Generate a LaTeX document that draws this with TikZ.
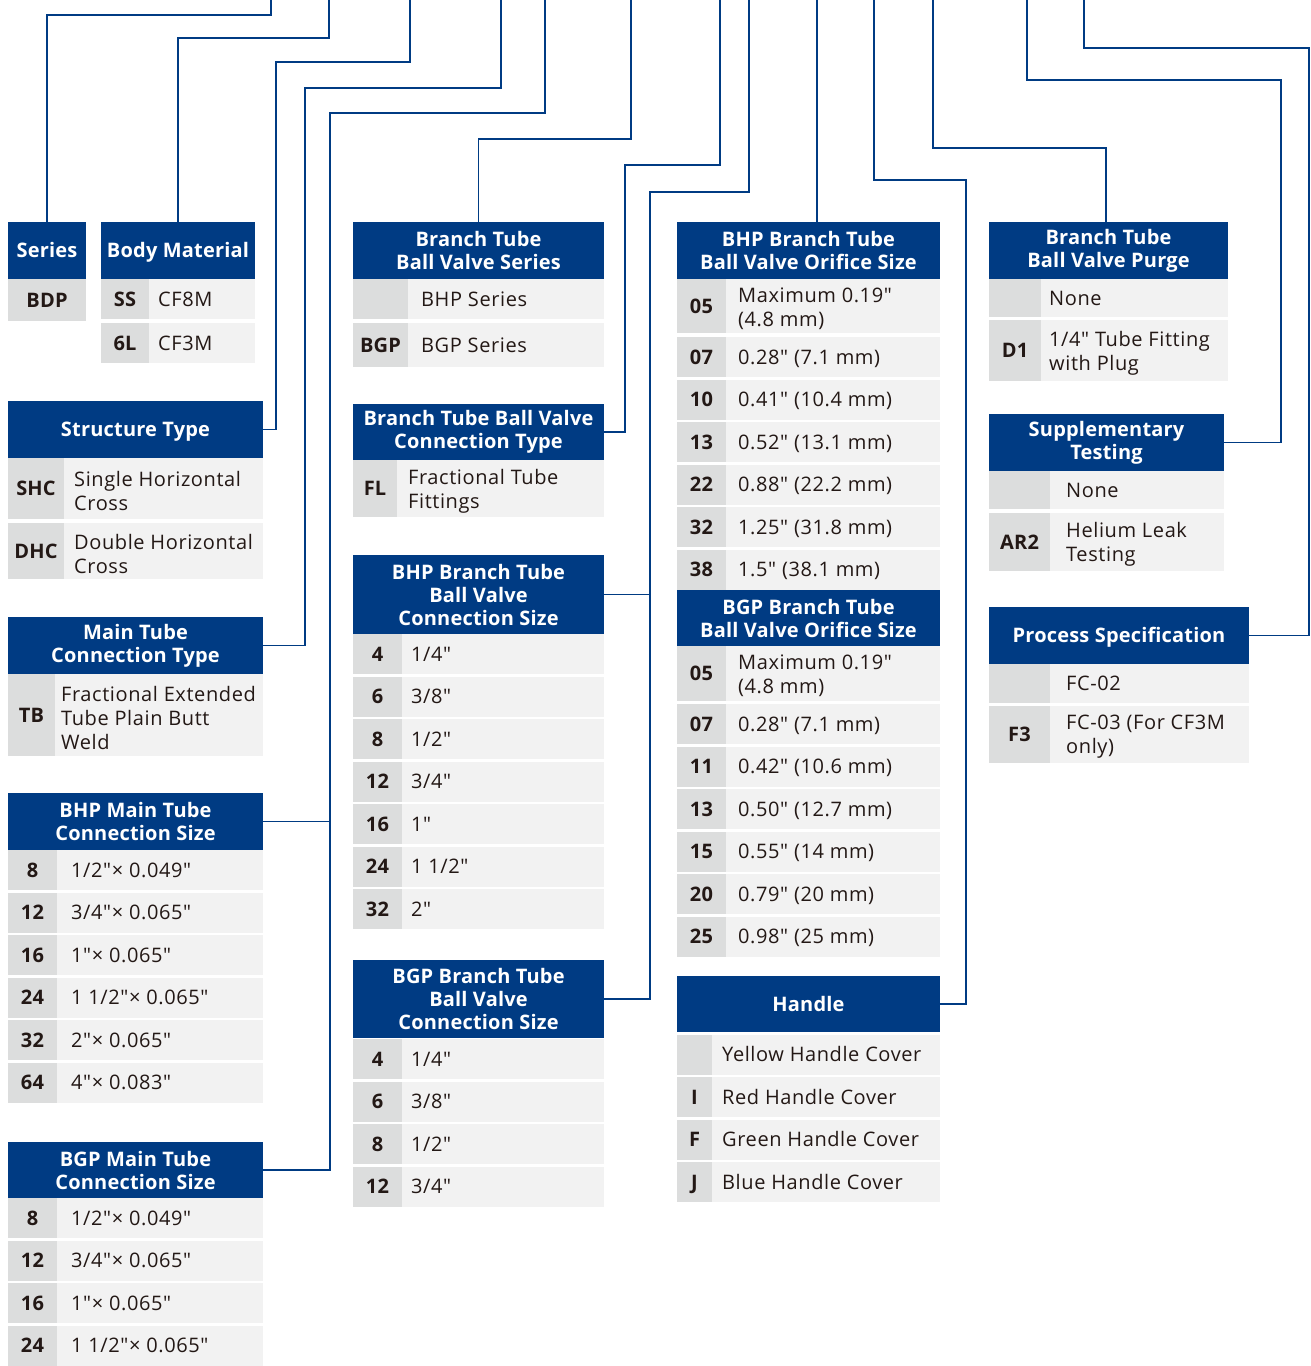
\documentclass[tikz,border=0pt]{standalone}
\usepackage{fontspec}
\setmainfont{Open Sans}[Ligatures=TeXOff, LetterSpace=3]
\newfontfamily\bfam{Open Sans}[Ligatures=TeXOff, LetterSpace=1]
\definecolor{hb}{RGB}{0,59,131}
\definecolor{keyfill}{RGB}{220,221,221}
\definecolor{valfill}{RGB}{242,242,242}
\definecolor{txt}{RGB}{35,24,21}
\tikzset{
  conn/.style={draw=hb, line width=1.6pt},
  one/.style={text height=14.3pt, text depth=0pt},
  multi/.style={yshift=-2.5pt},
  hdr/.style={fill=hb, text=white, font=\bfam\bfseries\fontsize{20}{23}\selectfont, align=center, inner sep=0pt, outer sep=0pt},
  keytext/.style={text=txt, font=\bfam\bfseries\fontsize{20}{24}\selectfont, inner sep=0pt, one},
  valtext/.style={text=txt, font=\fontsize{20}{24}\selectfont, inner sep=0pt, anchor=west, align=left},
}
\newcounter{rc}
\newcommand\trowgen[9]{%
  \stepcounter{rc}%
  \fill[keyfill] (#2,#6) rectangle (#3,#7);
  \fill[valfill] (#3,#6) rectangle (#4,#7);
  \node[keytext] (k\arabic{rc}) at ({(#2+#3)/2},{(#6+#7)/2}) {#8};
  \node[valtext,#1] (v\arabic{rc}) at (#5,{(#6+#7)/2}) {#9};
}
\newcommand\trow{\trowgen{one}}
\newcommand\trowm{\trowgen{multi}}
\newcommand\hdrbox[7][]{\node[hdr,#1,minimum width={(#5-#3)*1pt},minimum height={(#6-#4)*1pt}] (#2) at ({(#3+#5)/2},{(#4+#6)/2}) {#7};}
\begin{document}
\begin{tikzpicture}[x=1pt,y=-1pt]
\useasboundingbox (0,0) rectangle (1311,1366);
% ---------- column 1
\hdrbox[one]{series}{8}{222}{86}{279}{Series}
\fill[keyfill] (8,279) rectangle (86,321);
\node[keytext] (bdp) at (47,300) {BDP};
\hdrbox[one]{body}{101}{222}{255}{279}{Body Material}
\trow{101}{149}{255}{158}{279}{319}{SS}{CF8M}
\trow{101}{149}{255}{158}{323}{363}{6L}{CF3M}
\hdrbox[one]{struct}{8}{401}{263}{458}{Structure Type}
\trowm{8}{64}{263}{74}{458}{519}{SHC}{Single Horizontal\\Cross}
\trowm{8}{64}{263}{74}{523}{579}{DHC}{Double Horizontal\\Cross}
\hdrbox{mainct}{8}{617}{263}{674}{Main Tube\\Connection Type}
\trowm{8}{55}{263}{61}{674}{756}{TB}{Fractional Extended\\Tube Plain Butt\\Weld}
\hdrbox{bhpmain}{8}{793}{263}{850}{BHP Main Tube\\Connection Size}
\trow{8}{57}{263}{71}{850}{890}{8}{1/2"× 0.049"}
\trow{8}{57}{263}{71}{892.5}{932.5}{12}{3/4"× 0.065"}
\trow{8}{57}{263}{71}{935}{975}{16}{1"× 0.065"}
\trow{8}{57}{263}{71}{977.5}{1017.5}{24}{1 1/2"× 0.065"}
\trow{8}{57}{263}{71}{1020}{1060}{32}{2"× 0.065"}
\trow{8}{57}{263}{71}{1062.5}{1102.5}{64}{4"× 0.083"}
\hdrbox{bgpmain}{8}{1142}{263}{1198}{BGP Main Tube\\Connection Size}
\trow{8}{57}{263}{71}{1198}{1238}{8}{1/2"× 0.049"}
\trow{8}{57}{263}{71}{1240.5}{1280.5}{12}{3/4"× 0.065"}
\trow{8}{57}{263}{71}{1283}{1323}{16}{1"× 0.065"}
\trow{8}{57}{263}{71}{1325.5}{1365.5}{24}{1 1/2"× 0.065"}
% ---------- column 2
\hdrbox{bseries}{353}{222}{604}{279}{Branch Tube\\Ball Valve Series}
\trow{353}{408}{604}{421}{279}{319}{}{BHP Series}
\trow{353}{408}{604}{421}{323}{367}{BGP}{BGP Series}
\hdrbox{bconn}{353}{404}{604}{460}{Branch Tube Ball Valve\\Connection Type}
\trowm{353}{397}{604}{408}{460}{517}{FL}{Fractional Tube\\Fittings}
\hdrbox{bhpbc}{353}{555}{604}{634}{BHP Branch Tube\\Ball Valve\\Connection Size}
\trow{353}{402}{604}{411}{634}{674}{4}{1/4"}
\trow{353}{402}{604}{411}{676.5}{716.5}{6}{3/8"}
\trow{353}{402}{604}{411}{719}{759}{8}{1/2"}
\trow{353}{402}{604}{411}{761.5}{801.5}{12}{3/4"}
\trow{353}{402}{604}{411}{804}{844}{16}{1"}
\trow{353}{402}{604}{411}{846.5}{886.5}{24}{1 1/2"}
\trow{353}{402}{604}{411}{889}{929}{32}{2"}
\hdrbox{bgpbc}{353}{960}{604}{1038}{BGP Branch Tube\\Ball Valve\\Connection Size}
\trow{353}{402}{604}{411}{1039}{1079}{4}{1/4"}
\trow{353}{402}{604}{411}{1081.5}{1121.5}{6}{3/8"}
\trow{353}{402}{604}{411}{1124}{1164}{8}{1/2"}
\trow{353}{402}{604}{411}{1166.5}{1206.5}{12}{3/4"}
% ---------- column 3
\hdrbox{bhporif}{677}{222}{940}{279}{BHP Branch Tube\\Ball Valve Orifice Size}
\trowm{677}{726}{940}{738}{279}{333}{05}{Maximum 0.19"\\(4.8 mm)}
\trow{677}{726}{940}{738}{337}{377}{07}{0.28" (7.1 mm)}
\trow{677}{726}{940}{738}{379.5}{419.5}{10}{0.41" (10.4 mm)}
\trow{677}{726}{940}{738}{422}{462}{13}{0.52" (13.1 mm)}
\trow{677}{726}{940}{738}{464.5}{504.5}{22}{0.88" (22.2 mm)}
\trow{677}{726}{940}{738}{507}{547}{32}{1.25" (31.8 mm)}
\trow{677}{726}{940}{738}{549.5}{589.5}{38}{1.5" (38.1 mm)}
\hdrbox{bgporif}{677}{590}{940}{646}{BGP Branch Tube\\Ball Valve Orifice Size}
\trowm{677}{726}{940}{738}{646}{701}{05}{Maximum 0.19"\\(4.8 mm)}
\trow{677}{726}{940}{738}{704}{744}{07}{0.28" (7.1 mm)}
\trow{677}{726}{940}{738}{746.5}{786.5}{11}{0.42" (10.6 mm)}
\trow{677}{726}{940}{738}{789}{829}{13}{0.50" (12.7 mm)}
\trow{677}{726}{940}{738}{831.5}{871.5}{15}{0.55" (14 mm)}
\trow{677}{726}{940}{738}{874}{914}{20}{0.79" (20 mm)}
\trow{677}{726}{940}{738}{916.5}{956.5}{25}{0.98" (25 mm)}
\hdrbox[one]{handle}{677}{976}{940}{1032}{Handle}
\trow{677}{712}{940}{722}{1034.5}{1074.5}{}{Yellow Handle Cover}
\trow{677}{712}{940}{722}{1077}{1117}{I}{Red Handle Cover}
\trow{677}{712}{940}{722}{1119.5}{1159.5}{F}{Green Handle Cover}
\trow{677}{712}{940}{722}{1162}{1202}{J}{Blue Handle Cover}
% ---------- column 4
\hdrbox{purge}{989}{222}{1228}{279}{Branch Tube\\Ball Valve Purge}
\trow{989}{1041}{1228}{1049}{279}{317}{}{None}
\trowm{989}{1041}{1228}{1049}{320}{381}{D1}{1/4" Tube Fitting\\with Plug}
\hdrbox{supp}{989}{414}{1224}{471}{Supplementary\\Testing}
\trow{989}{1050}{1224}{1066}{471}{509}{}{None}
\trowm{989}{1050}{1224}{1066}{513}{571}{AR2}{Helium Leak\\Testing}
\hdrbox[one]{proc}{989}{607}{1249}{664}{Process Specification}
\trow{989}{1050}{1249}{1066}{664}{703}{}{FC-02}
\trowm{989}{1050}{1249}{1066}{706}{763}{F3}{FC-03 (For CF3M\\only)}
% ---------- connectors
\coordinate (t1) at (271,0);
\coordinate (t2) at (329,0);
\coordinate (t3) at (410,0);
\coordinate (t4) at (501,0);
\coordinate (t5) at (545,0);
\coordinate (t6) at (631,0);
\coordinate (t7) at (720,0);
\coordinate (t8) at (749,0);
\coordinate (t9) at (817,0);
\coordinate (t10) at (874,0);
\coordinate (t11) at (933,0);
\coordinate (t12) at (1027,0);
\coordinate (t13) at (1084,0);
\draw[conn] (t1) -- ++(0,15) -| (series.north);
\draw[conn] (t2) -- ++(0,38) -| (body.north);
\draw[conn] (t3) -- ++(0,62) -- ++(-134,0) |- (struct.east);
\draw[conn] (t4) -- ++(0,88) -- ++(-196,0) |- (mainct.east);
\draw[conn] (t5) -- ++(0,113) -- ++(-215,0) coordinate (c5) |- (bgpmain.east);
\draw[conn] (c5) |- (bhpmain.east);
\draw[conn] (t6) -- ++(0,139) -| (bseries.north);
\draw[conn] (t7) -- ++(0,165) -- ++(-95,0) |- (bconn.east);
\draw[conn] (t8) -- ++(0,192) -- ++(-99,0) coordinate (c8) |- (bgpbc.east);
\draw[conn] (c8) |- (bhpbc.east);
\draw[conn] (t9) -- (t9 |- bhporif.north);
\draw[conn] (t10) -- ++(0,180) -- ++(92,0) |- (handle.east);
\draw[conn] (t11) -- ++(0,148) -- ++(173,0) coordinate (c11) -- (c11 |- purge.north);
\draw[conn] (t12) -- ++(0,80) -- ++(254,0) |- (supp.east);
\draw[conn] (t13) -- ++(0,48) -- ++(225,0) |- (proc.east);
\end{tikzpicture}
\end{document}
